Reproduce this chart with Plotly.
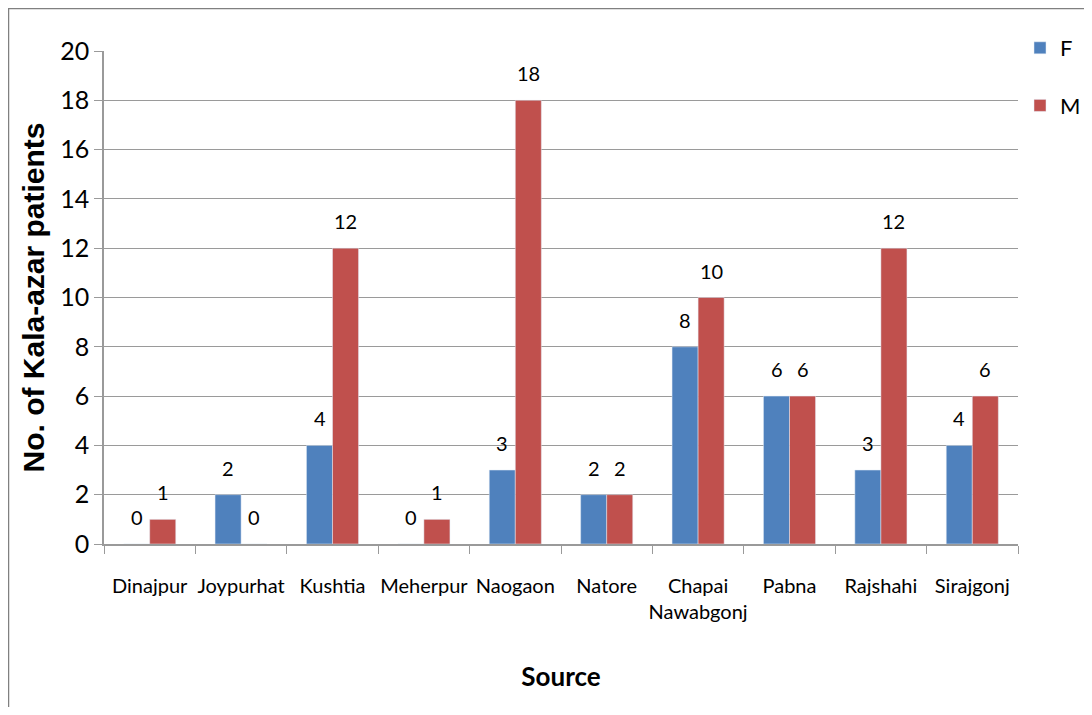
import plotly.graph_objects as go

categories = ["Dinajpur", "Joypurhat", "Kushtia", "Meherpur", "Naogaon", "Natore",
              "Chapai<br>Nawabgonj", "Pabna", "Rajshahi", "Sirajgonj"]
female = [0, 2, 4, 0, 3, 2, 8, 6, 3, 4]
male = [1, 0, 12, 1, 18, 2, 10, 6, 12, 6]
y_ticks = [0, 2, 4, 6, 8, 10, 12, 14, 16, 18, 20]

SANS = "Lato, Open Sans, sans-serif"
ARIAL = "Arial, Liberation Sans, sans-serif"
GRID = "#9A9A9A"

# figure is offset by the page's 8px body margin; geometry compensates
W, H = 1084, 699
L, T = 96, 43
PW, PH = 914, 493
R = W - L - PW
B = H - T - PH

fig = go.Figure()
fig.add_trace(go.Bar(name="F", x=categories, y=female, marker_color="#4F81BD",
                     legendgroup="F"))
fig.add_trace(go.Bar(name="M", x=categories, y=male, marker_color="#C0504D",
                     legendgroup="M"))

annotations = []
for vals, shift in ((female, -13), (male, 13)):
    for c, v in zip(categories, vals):
        annotations.append(dict(x=c, y=v, xref="x", yref="y", text=str(v),
                                showarrow=False, xshift=shift, yshift=27,
                                yanchor="middle", xanchor="center",
                                font=dict(size=20, family=SANS, color="black")))

bx = (0.5 - L) / PW
by = 1 + (T - 0.5) / PH

fig.update_layout(
    width=W, height=H,
    margin=dict(l=L, r=R, t=T, b=B, autoexpand=False),
    paper_bgcolor="white", plot_bgcolor="white",
    barmode="group", bargap=0.43, bargroupgap=0,
    font=dict(family=SANS, color="black", size=20),
    legend=dict(x=(1012 - L) / PW, y=1 + (T - 19) / PH, xanchor="left", yanchor="top",
                font=dict(size=22, family=SANS), tracegroupgap=26,
                itemwidth=30, bgcolor="rgba(0,0,0,0)"),
    annotations=annotations,
    shapes=[dict(type="rect", xref="paper", yref="paper",
                 x0=bx, x1=1.3, y0=-0.6, y1=by,
                 line=dict(color="#808080", width=1.5), layer="below")],
)
fig.update_xaxes(
    title=dict(text="<b>Source</b>", font=dict(size=26, family=SANS), standoff=46),
    showline=True, linecolor=GRID, linewidth=1.5,
    ticks="outside", tickson="boundaries", ticklen=8, tickcolor=GRID,
    tickfont=dict(size=20, family=SANS), tickangle=0, ticklabelstandoff=23,
)
fig.update_yaxes(
    title=dict(text="<b>No. of Kala-azar patients</b>",
               font=dict(size=30, family=ARIAL), standoff=7),
    range=[0, 20], tickvals=y_ticks,
    showgrid=True, gridcolor=GRID, gridwidth=1,
    showline=True, linecolor=GRID, linewidth=1.5,
    ticks="outside", ticklen=8, tickcolor=GRID,
    tickfont=dict(size=25, family=SANS), zeroline=False,
)

fig.write_html("out.html")
